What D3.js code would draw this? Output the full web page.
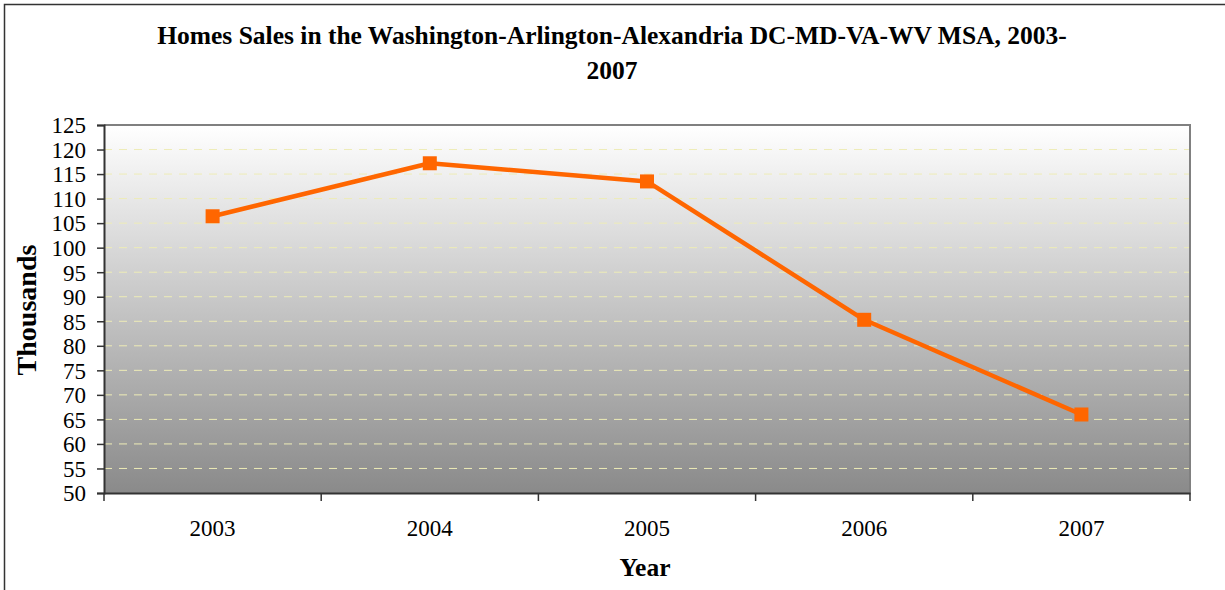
<!DOCTYPE html>
<html>
<head>
<meta charset="utf-8">
<script src="https://cdn.jsdelivr.net/npm/d3@7"></script>
<style>
  html, body { margin: 0; padding: 0; background: #ffffff; }
  svg { display: block; }
  text { font-family: "Liberation Serif", "Times New Roman", serif; fill: #000; }
</style>
</head>
<body>
<svg id="chart" width="1225" height="590"></svg>
<script>
const years = ["2003", "2004", "2005", "2006", "2007"];
const sales = [106.4, 117.2, 113.5, 85.3, 66.0];
const yTicks = [50, 55, 60, 65, 70, 75, 80, 85, 90, 95, 100, 105, 110, 115, 120, 125];
const titleLines = ["Homes Sales in the Washington-Arlington-Alexandria DC-MD-VA-WV MSA, 2003-", "2007"];
const xTitle = "Year";
const yTitle = "Thousands";

const SERIF = "'Liberation Serif', 'Times New Roman', serif";
const svg = d3.select("#chart");
const W = 1225, H = 590;
const m = { left: 104, top: 125, right: 1190, bottom: 493 };

// outer frame (top and left edges visible)
svg.append("path")
  .attr("d", `M4.5,${H + 2} L4.5,4.5 L${W + 2},4.5`)
  .attr("fill", "none").attr("stroke", "#333").attr("stroke-width", 1.5);

const x = d3.scaleBand().domain(years).range([m.left, m.right]).padding(0);
const y = d3.scaleLinear().domain([50, 125]).range([m.bottom, m.top]);

const defs = svg.append("defs");
const grad = defs.append("linearGradient").attr("id", "bg")
  .attr("x1", 0).attr("y1", 0).attr("x2", 0).attr("y2", 1);
grad.append("stop").attr("offset", "0%").attr("stop-color", "#ffffff");
grad.append("stop").attr("offset", "100%").attr("stop-color", "#8a8a8a");

svg.append("rect")
  .attr("x", m.left).attr("y", m.top)
  .attr("width", m.right - m.left).attr("height", m.bottom - m.top)
  .attr("fill", "url(#bg)");

// gridlines
svg.append("g").selectAll("line")
  .data(yTicks.filter(t => t !== 50 && t !== 125))
  .join("line")
  .attr("x1", m.left).attr("x2", m.right)
  .attr("y1", d => y(d)).attr("y2", d => y(d))
  .attr("stroke", "#eeecb6").attr("stroke-width", 1)
  .attr("stroke-dasharray", "8,7");

// plot border top/right
svg.append("path")
  .attr("d", `M${m.left},${m.top} L${m.right},${m.top} L${m.right},${m.bottom}`)
  .attr("fill", "none").attr("stroke", "#808080").attr("stroke-width", 2);

// y axis
const yAxis = svg.append("g").attr("transform", `translate(${m.left},0)`)
  .call(d3.axisLeft(y).tickValues(yTicks).tickSize(7).tickPadding(11).tickFormat(d3.format("d")));
yAxis.attr("font-family", SERIF).attr("font-size", 23);
yAxis.select(".domain").attr("stroke", "#333").attr("stroke-width", 2);
yAxis.selectAll(".tick line").attr("stroke", "#333").attr("stroke-width", 1.5);
yAxis.selectAll(".tick text")
  .attr("font-family", SERIF).style("font-family", SERIF).style("font-size", "23px").attr("fill", "#000")
  .attr("dy", "0.34em");

// x axis
const xAxis = svg.append("g").attr("transform", `translate(0,${m.bottom})`)
  .call(d3.axisBottom(x).tickSize(0).tickPadding(0));
xAxis.attr("font-family", SERIF).attr("font-size", 23);
xAxis.select(".domain").attr("stroke", "#333").attr("stroke-width", 2);
xAxis.selectAll(".tick text")
  .attr("font-family", SERIF).style("font-family", SERIF).style("font-size", "23px").attr("fill", "#000")
  .attr("y", 43).attr("dy", null);
// tick marks at category boundaries
const bounds = years.map(d => x(d)).concat([x(years[years.length - 1]) + x.bandwidth()]);
svg.append("g").selectAll("line").data(bounds).join("line")
  .attr("x1", d => d).attr("x2", d => d)
  .attr("y1", m.bottom).attr("y2", m.bottom + 8)
  .attr("stroke", "#333").attr("stroke-width", 1.5);

// line
const cx = d => x(d) + x.bandwidth() / 2;
svg.append("path")
  .datum(years.map((yr, i) => [cx(yr), y(sales[i])]))
  .attr("d", d3.line())
  .attr("fill", "none").attr("stroke", "#ff6600").attr("stroke-width", 4.5)
  .attr("stroke-linejoin", "round");

svg.append("g").selectAll("rect").data(years).join("rect")
  .attr("x", d => cx(d) - 7)
  .attr("y", (d, i) => y(sales[i]) - 7)
  .attr("width", 14).attr("height", 14)
  .attr("fill", "#ff6600");

// titles
svg.append("g").selectAll("text").data(titleLines).join("text")
  .attr("x", 612).attr("y", (d, i) => 44 + i * 34.5)
  .attr("text-anchor", "middle")
  .style("font-family", SERIF)
  .style("font-size", "25.5px").style("font-weight", "bold")
  .text(d => d);

svg.append("text")
  .attr("x", 645).attr("y", 576)
  .attr("text-anchor", "middle")
  .style("font-family", SERIF)
  .style("font-size", "25.5px").style("font-weight", "bold")
  .text(xTitle);

svg.append("text")
  .attr("transform", `translate(36,${(m.top + m.bottom) / 2 + 1}) rotate(-90)`)
  .attr("text-anchor", "middle")
  .style("font-family", SERIF)
  .style("font-size", "28px").style("font-weight", "bold")
  .text(yTitle);
</script>
</body>
</html>
